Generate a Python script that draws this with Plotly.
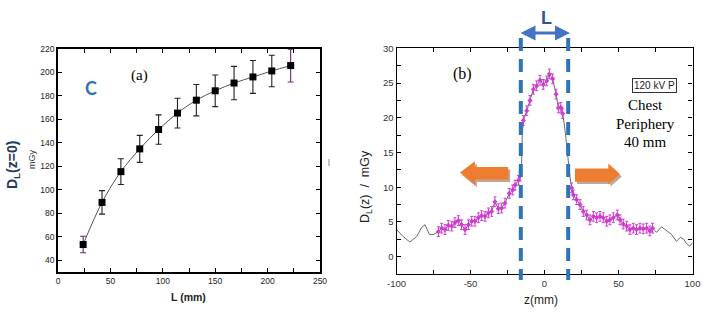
import plotly.graph_objects as go

# ---------------- Panel (a) data ----------------
L_mm = [24, 42, 60, 78, 96, 114, 132, 150, 168, 186, 204, 222]
D_z0 = [53.4, 89.3, 115.5, 134.9, 151.4, 165.4, 176.4, 184.4, 191.0, 196.2, 201.3, 205.9]
D_z0_err = [7.0, 10.0, 11.0, 11.5, 12.5, 12.7, 13.4, 13.5, 14.2, 14.0, 13.4, 14.0]

a_xticks = [0, 25, 50, 75, 100, 125, 150, 175, 200, 225, 250]
a_xlabels = ["0", " ", "50", " ", "100", " ", "150", " ", "200", " ", "250"]
a_yticks = [40, 60, 80, 100, 120, 140, 160, 180, 200, 220]

# ---------------- Panel (b) data ----------------
meas_z = [-71.7, -69.5, -67.2, -65.0, -62.7, -60.5, -58.2, -56.0, -53.7, -51.4,
          -49.2, -47.0, -44.7, -42.5, -40.2, -37.9, -35.7, -33.5, -31.2, -29.0,
          -26.7, -23.8, -21.5, -19.9, -17.6, -16.5,
          -14.3, -12.0, -9.8, -7.5, -5.3, -3.0, -0.8, 1.5, 3.3, 5.5, 7.8, 9.4, 11.0, 12.3,
          18.3, 19.5, 21.7, 24.0, 26.2, 28.5, 30.7, 33.0, 35.2, 37.5,
          39.7, 42.0, 44.2, 46.5, 49.2, 51.0, 53.2, 55.5, 57.7, 60.0,
          62.2, 64.5, 66.7, 69.0, 71.2, 73.0]
meas_d = [3.6, 4.1, 3.9, 4.5, 4.4, 4.9, 5.2, 4.6, 3.9, 4.6,
          5.1, 5.1, 5.6, 5.9, 5.8, 6.3, 6.5, 7.9, 6.9, 7.0,
          7.7, 9.1, 9.6, 10.3, 11.0, 11.6,
          19.6, 21.0, 22.5, 24.1, 24.6, 25.4, 24.8, 25.3, 26.3, 25.6, 23.4, 21.4, 21.5, 20.6,
          9.9, 8.9, 8.2, 7.5, 6.5, 6.0, 5.3, 5.8, 5.6, 5.8,
          5.6, 5.1, 5.3, 5.6, 6.0, 5.3, 4.7, 4.4, 3.9, 4.1,
          3.9, 4.1, 4.0, 4.1, 3.7, 4.1]
meas_err = [0.7] * len(meas_z)

# parts of the profile drawn only as the thin line
line_only_z = [-100.0, -96.0, -91.0, -86.4, -83.0, -80.7, -77.8, -75.0,
               -15.5, -15.0, 13.9, 15.5, 16.3, 17.2,
               75.7, 79.1, 82.5, 85.8, 89.2, 91.9, 94.1, 95.9, 98.1, 100.0]
line_only_d = [3.9, 3.0, 2.1, 2.9, 4.2, 4.6, 3.2, 3.2,
               13.4, 17.5, 18.2, 14.8, 12.5, 11.5,
               3.5, 4.3, 3.7, 3.2, 2.2, 2.8, 2.5, 1.9, 1.5, 2.0]

b_xticks = [-100, -75, -50, -25, 0, 25, 50, 75, 100]
b_xlabels = ["-100", " ", "-50", " ", "0", " ", "50", " ", "100"]
b_yticks = [0, 2.5, 5, 7.5, 10, 12.5, 15, 17.5, 20, 22.5, 25, 27.5, 30]
b_ylabels = ["0", " ", "5", " ", "10", " ", "15", " ", "20", " ", "25", " ", "30"]

L_half = 16  # half-width of the L marker (mm)

W, H = 707, 314


def px(x):
    return x / W


def py(y):
    return 1 - y / H


pairs = sorted(zip(line_only_z + meas_z, line_only_d + meas_d))
curve_z = [p[0] for p in pairs]
curve_d = [p[1] for p in pairs]

fig = go.Figure()

# panel (a)
fig.add_trace(go.Scatter(x=L_mm, y=D_z0, mode="lines", line=dict(color="#555555", width=1, shape="spline"),
                         xaxis="x", yaxis="y", showlegend=False, hoverinfo="skip"))
mid = list(range(1, len(L_mm) - 1))
ends = [0, len(L_mm) - 1]
fig.add_trace(go.Scatter(x=[L_mm[i] for i in mid], y=[D_z0[i] for i in mid], mode="markers",
                         marker=dict(symbol="square", size=7, color="black"),
                         error_y=dict(type="data", array=[D_z0_err[i] for i in mid], color="#222222",
                                      thickness=1.1, width=3),
                         xaxis="x", yaxis="y", showlegend=False))
fig.add_trace(go.Scatter(x=[L_mm[i] for i in ends], y=[D_z0[i] for i in ends], mode="markers",
                         marker=dict(symbol="square", size=7, color="black"),
                         error_y=dict(type="data", array=[D_z0_err[i] for i in ends], color="#6B2A66",
                                      thickness=1.1, width=3),
                         xaxis="x", yaxis="y", showlegend=False))

# panel (b)
fig.add_trace(go.Scatter(x=curve_z, y=curve_d, mode="lines", line=dict(color="#444444", width=0.8),
                         xaxis="x2", yaxis="y2", showlegend=False, hoverinfo="skip"))
fig.add_trace(go.Scatter(x=meas_z, y=meas_d, mode="markers",
                         marker=dict(symbol="diamond", size=4, color="#D03CD0"),
                         error_y=dict(type="data", array=meas_err, color="#D03CD0", thickness=1, width=1.5),
                         xaxis="x2", yaxis="y2", showlegend=False))

tickfont_a = dict(family="Liberation Sans, Arial", size=8.5, color="#222222")
tickfont_b = dict(family="Liberation Sans, Arial", size=9.5, color="#333333")

axis_common = dict(showline=True, mirror="ticks", ticks="inside", ticklen=4, tickcolor="black",
                   showgrid=False, zeroline=False, linecolor="black", automargin=False)

fig.update_layout(
    width=W, height=H, autosize=False,
    margin=dict(l=0, r=0, t=0, b=0, pad=0, autoexpand=False),
    paper_bgcolor="white", plot_bgcolor="white",
    xaxis=dict(domain=[px(58), px(320)], range=[0, 250], tickvals=a_xticks, ticktext=a_xlabels,
               tickfont=tickfont_a, linewidth=1.5, anchor="y", **axis_common),
    yaxis=dict(domain=[py(272), py(49)], range=[30, 220], tickvals=a_yticks,
               tickfont=tickfont_a, linewidth=1.5, anchor="x", **axis_common),
    xaxis2=dict(domain=[px(396.5), px(692.5)], range=[-100, 100], tickvals=b_xticks, ticktext=b_xlabels,
                tickfont=tickfont_b, linewidth=1.2, anchor="y2", **axis_common),
    yaxis2=dict(domain=[py(274), py(48.3)], range=[-2.5, 30], tickvals=b_yticks, ticktext=b_ylabels,
                tickfont=tickfont_b, linewidth=1.2, anchor="x2", **axis_common),
)

ann = []
serif = "Liberation Serif, Times New Roman"


def txt(x, y, text, font, **kw):
    d = dict(x=px(x), y=py(y), xref="paper", yref="paper", text=text, showarrow=False,
             xanchor="center", yanchor="middle", font=font)
    d.update(kw)
    ann.append(d)


txt(91, 88, "<b>C</b>", dict(family="Lato, Liberation Sans", size=18, color="#2E75B6"))
txt(139, 76, "(a)", dict(family=serif, size=15, color="black"))
txt(13, 165, "<b>D<sub>L</sub>(z=0)</b>", dict(family="Liberation Sans, Arial", size=14, color="#1F3864"),
    textangle=-90)
txt(32, 160, "mGy", dict(family="Liberation Sans, Arial", size=9, color="#333333"), textangle=-90)
txt(188, 297, "<b>L (mm)</b>", dict(family="Liberation Sans, Arial", size=10.5, color="#222222"))
txt(462, 74, "(b)", dict(family=serif, size=16, color="black"))
txt(654, 85, "120 kV P", dict(family="Liberation Sans, Arial", size=10, color="#222222"),
    bordercolor="#333333", borderwidth=1, borderpad=1, bgcolor="white")
for t, yy in [("Chest", 105), ("Periphery", 123.5), ("40 mm", 142)]:
    txt(645, yy, t, dict(family=serif, size=15, color="black"))
txt(366, 187, "D<sub>L</sub>(z)  /  mGy", dict(family="Liberation Sans, Arial", size=12.5, color="#222222"),
    textangle=-90)
txt(541, 300, "z(mm)", dict(family="Liberation Sans, Arial", size=12, color="#222222"))
txt(546, 18, "<b>L</b>", dict(family="Liberation Sans, Arial", size=18, color="#2F5597"))

# double-headed arrow for L (spans the two dashed lines, just above the frame)
ann.append(dict(x=px(570), y=py(33), xref="paper", yref="paper", ax=-51, ay=0,
                text="", showarrow=True, arrowhead=2, arrowside="end+start", arrowsize=1,
                arrowwidth=3, arrowcolor="#4472C4", standoff=0, startstandoff=0))
fig.update_layout(annotations=ann)

shapes = []
for zc in (-L_half, L_half):
    shapes.append(dict(type="line", xref="x2", yref="paper", x0=zc, x1=zc, y0=py(38), y1=py(280),
                       line=dict(color="#2E75B6", width=4, dash="13px,8px")))

left_arrow = [(-57.1, 12.1), (-47, 13.75), (-47, 12.9), (-24.5, 12.9), (-24.5, 11.1), (-47, 11.1), (-47, 10.35)]
right_arrow = [(51, 11.9), (43.1, 13.4), (43.1, 12.7), (20.6, 12.7), (20.6, 10.8), (43.1, 10.8), (43.1, 10.4)]


def path(pts, dx=0.0, dy=0.0):
    return "M " + " L ".join(f"{x + dx},{y + dy}" for x, y in pts) + " Z"


for pts in (left_arrow, right_arrow):
    shapes.append(dict(type="path", xref="x2", yref="y2", path=path(pts, 1.3, -0.35),
                       fillcolor="rgba(140,95,70,0.55)", line=dict(width=0)))
    shapes.append(dict(type="path", xref="x2", yref="y2", path=path(pts),
                       fillcolor="#ED7D31", line=dict(width=0)))

shapes.append(dict(type="line", xref="paper", yref="paper", x0=px(329), x1=px(329), y0=py(159), y1=py(166),
                   line=dict(color="#888888", width=1)))
fig.update_layout(shapes=shapes)

fig.write_html("out.html",
               config={"displayModeBar": False},
               post_script="document.body.style.margin='0';document.body.style.padding='0';"
                           "document.body.style.overflow='hidden';")
